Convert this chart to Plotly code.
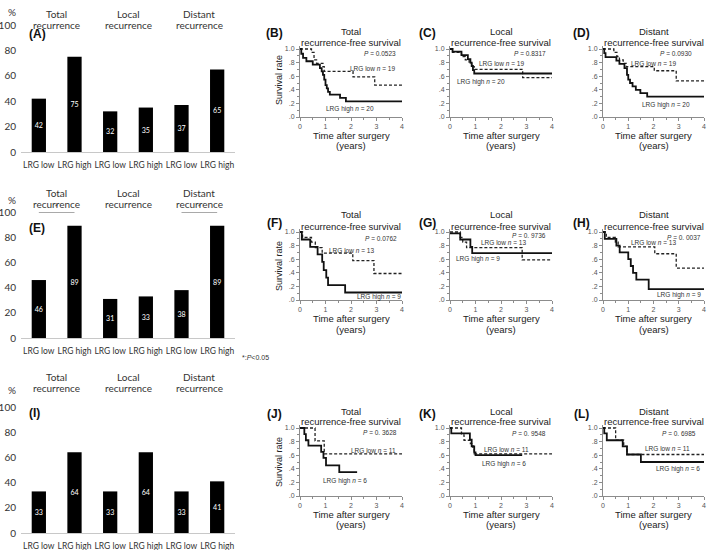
import plotly.graph_objects as go

W, H = 709, 550

# ---------------- bar chart data ----------------
bar_categories = ["LRG low", "LRG high", "LRG low", "LRG high", "LRG low", "LRG high"]
group_titles = ["Total", "Local", "Distant"]
bar_values_A = [42, 75, 32, 35, 37, 65]
bar_values_E = [46, 89, 31, 33, 38, 89]
bar_values_I = [33, 64, 33, 64, 33, 41]
bar_yticks = [0, 20, 40, 60, 80, 100]

# ---------------- Kaplan-Meier step data (time in years, survival) ----------------
B_low_t = [0, 0.45, 0.55, 0.65, 0.9, 0.95, 2.08, 2.93, 4]
B_low_s = [1, 0.95, 0.84, 0.79, 0.74, 0.67, 0.59, 0.47, 0.47]
B_high_t = [0, 0.05, 0.12, 0.25, 0.5, 0.78, 0.85, 0.9, 0.95, 1.0, 1.05, 1.1, 1.17, 1.57, 1.8, 4]
B_high_s = [1, 0.93, 0.87, 0.82, 0.77, 0.72, 0.67, 0.62, 0.55, 0.47, 0.42, 0.37, 0.33, 0.28, 0.23, 0.23]

C_low_t = [0, 0.1, 0.45, 0.6, 0.75, 0.85, 0.95, 2.85, 4]
C_low_s = [1, 0.95, 0.89, 0.84, 0.79, 0.74, 0.70, 0.58, 0.58]
C_high_t = [0, 0.1, 0.45, 0.7, 0.8, 0.85, 0.9, 0.95, 4]
C_high_s = [1, 0.96, 0.91, 0.85, 0.8, 0.75, 0.69, 0.64, 0.64]

D_low_t = [0, 0.43, 0.55, 0.65, 0.8, 0.92, 2.03, 2.9, 4]
D_low_s = [1, 0.95, 0.89, 0.84, 0.79, 0.74, 0.68, 0.53, 0.53]
D_high_t = [0, 0.05, 0.1, 0.53, 0.65, 0.85, 0.95, 1.0, 1.07, 1.17, 1.3, 1.48, 1.75, 4]
D_high_s = [1, 0.94, 0.88, 0.83, 0.78, 0.72, 0.62, 0.55, 0.5, 0.45, 0.4, 0.35, 0.3, 0.3]

F_low_t = [0, 0.1, 0.45, 0.6, 0.87, 2.07, 2.9, 4]
F_low_s = [1, 0.92, 0.85, 0.77, 0.69, 0.58, 0.39, 0.39]
F_high_t = [0, 0.07, 0.4, 0.69, 0.87, 0.93, 1.03, 1.1, 1.77, 4]
F_high_s = [1, 0.89, 0.78, 0.67, 0.56, 0.44, 0.33, 0.22, 0.11, 0.11]

G_low_t = [0, 0.4, 0.5, 0.65, 2.83, 4]
G_low_s = [1, 0.92, 0.85, 0.77, 0.59, 0.59]
G_high_t = [0, 0.4, 0.8, 0.87, 4]
G_high_s = [0.98, 0.89, 0.78, 0.69, 0.69]

H_low_t = [0, 0.13, 0.49, 0.6, 2.05, 2.9, 4]
H_low_s = [1, 0.92, 0.85, 0.78, 0.68, 0.47, 0.47]
H_high_t = [0, 0.07, 0.53, 0.66, 1.0, 1.1, 1.19, 1.32, 1.81, 4]
H_high_s = [1, 0.9, 0.8, 0.7, 0.6, 0.5, 0.4, 0.3, 0.16, 0.16]

J_low_t = [0, 0.59, 0.95, 4]
J_low_s = [1, 0.81, 0.62, 0.62]
J_high_t = [0, 0.17, 0.23, 0.33, 0.83, 0.92, 1.02, 1.54, 2.24]
J_high_s = [1, 0.91, 0.82, 0.74, 0.65, 0.56, 0.45, 0.35, 0.35]

K_low_t = [0, 0.45, 0.55, 0.8, 0.9, 0.95, 4]
K_low_s = [1, 0.9, 0.82, 0.77, 0.7, 0.62, 0.62]
K_high_t = [0, 0.05, 0.78, 0.85, 0.95, 1.0, 2.83]
K_high_s = [1, 0.92, 0.83, 0.73, 0.64, 0.6, 0.6]

L_low_t = [0, 0.5, 0.82, 0.95, 4]
L_low_s = [1, 0.82, 0.73, 0.61, 0.61]
L_high_t = [0, 0.05, 0.15, 0.78, 0.95, 1.5, 4]
L_high_s = [1, 0.92, 0.82, 0.73, 0.61, 0.5, 0.5]

km_yticks = [0, 0.2, 0.4, 0.6, 0.8, 1.0]
km_yticktext = [".0", ".2", ".4", ".6", ".8", "1.0"]
km_xticks = [0, 1, 2, 3, 4]

# ---------------- layout helpers ----------------
BAR_FONT = "Lato, Carlito, Liberation Sans, sans-serif"
KM_FONT = "Liberation Sans, Arial, sans-serif"
annotations = []
shapes = []
layout = dict(template="none", width=W, height=H, autosize=False,
              margin=dict(l=0, r=0, t=0, b=0, pad=0),
              paper_bgcolor="white", plot_bgcolor="white", showlegend=False)


def ann(xp, yp, text, size, family=KM_FONT, color="#222", xanchor="center",
        yanchor="middle", bold=False, angle=0):
    if bold:
        text = "<b>" + text + "</b>"
    annotations.append(dict(x=xp / W, y=1 - yp / H, xref="paper", yref="paper",
                            text=text, showarrow=False, xanchor=xanchor,
                            yanchor=yanchor, textangle=angle,
                            font=dict(size=size, family=family, color=color)))


fig = go.Figure()

# ---------------- bar panels ----------------
bar_panels = [
    # letter, values, py(100), py(0), py title lines, py "%", py letter
    ("(A)", bar_values_A, 25, 152, (6, 17), 12, 34),
    ("(E)", bar_values_E, 212, 338, (193, 204), 200, 228),
    ("(I)", bar_values_I, 407, 533, (385, 396), 390, 413),
]
for i, (letter, vals, ptop, pbot, tl, ppct, plet) in enumerate(bar_panels):
    n = i + 1
    xa = "x" if n == 1 else f"x{n}"
    ya = "y" if n == 1 else f"y{n}"
    layout["xaxis" if n == 1 else f"xaxis{n}"] = dict(
        domain=[21 / W, 235 / W], range=[-0.5, 5.5], anchor=ya, automargin=False,
        tickmode="array", tickvals=list(range(6)), ticktext=bar_categories,
        tickangle=0, ticklabelstandoff=5,
        showline=True, linecolor="#c8c8c8", linewidth=1, ticks="",
        showgrid=False, zeroline=False,
        tickfont=dict(family=BAR_FONT, size=8.5, color="#333"))
    layout["yaxis" if n == 1 else f"yaxis{n}"] = dict(
        domain=[1 - pbot / H, 1 - ptop / H], range=[0, 100], anchor=xa, automargin=False,
        tickmode="array", tickvals=bar_yticks, showline=False, showgrid=False,
        zeroline=False, ticks="", ticklabelstandoff=4,
        tickfont=dict(family=BAR_FONT, size=10, color="#333"))
    fig.add_trace(go.Bar(x=list(range(6)), y=vals, width=0.4,
                         marker=dict(color="black", line=dict(width=0)),
                         text=[str(v) for v in vals], textposition="inside",
                         insidetextanchor="middle", textangle=0,
                         insidetextfont=dict(color="#ffffff", size=9, family=BAR_FONT),
                         textfont=dict(color="#ffffff", size=9, family=BAR_FONT),
                         xaxis=xa, yaxis=ya, hoverinfo="skip"))
    for g, gx in zip(group_titles, [0.5, 2.5, 4.5]):
        for line_text, yp in ((g, tl[0]), ("recurrence", tl[1])):
            annotations.append(dict(x=gx, y=1 - yp / H, xref=xa, yref="paper",
                                    text=line_text, showarrow=False,
                                    font=dict(size=10, family=BAR_FONT, color="#333")))
    ann(12, ppct, "%", 10, family=BAR_FONT, color="#333")
    ann(27, plet, letter, 12, family=KM_FONT, color="#111", xanchor="left", bold=True)

# significance brackets in panel (E)
for x0, x1 in ((0, 1), (4, 5)):
    shapes.append(dict(type="line", xref="x2", yref="y2", x0=x0, x1=x1, y0=100, y1=100,
                       line=dict(color="#555", width=1)))
    annotations.append(dict(x=(x0 + x1) / 2, y=100, xref="x2", yref="y2", text="*",
                            showarrow=False, yanchor="bottom",
                            font=dict(size=7, family=KM_FONT, color="#444")))
ann(240, 357, "*:<i>P</i>&lt;0.05", 7, color="#333", xanchor="left")

# ---------------- KM panels ----------------
rows = [(117, 49, (31, 42), 33, 80, (135, 146)),
        (300, 232, (214, 226), 223, 266, (318, 329)),
        (496, 428, (411, 421), 414, 462, (514, 524))]
cols = [(300, 402, 274), (450, 552, 428), (603, 704, 581)]

km_panels = [
    ("(B)", "Total", B_low_t, B_low_s, B_high_t, B_high_s, "0.0523", 19, 20,
     (3.85, 0.93), (2.85, 0.72), (1.98, 0.12)),
    ("(C)", "Local", C_low_t, C_low_s, C_high_t, C_high_s, "0.8317", 19, 20,
     (3.84, 0.93), (2.0, 0.79), (1.2, 0.52)),
    ("(D)", "Distant", D_low_t, D_low_s, D_high_t, D_high_s, "0.0930", 19, 20,
     (3.6, 0.93), (1.98, 0.79), (2.5, 0.18)),
    ("(F)", "Total", F_low_t, F_low_s, F_high_t, F_high_s, "0.0762", 13, 9,
     (3.87, 0.91), (2.0, 0.73), (3.1, 0.05)),
    ("(G)", "Local", G_low_t, G_low_s, G_high_t, G_high_s, "0. 9736", 13, 9,
     (3.84, 0.95), (2.1, 0.85), (1.1, 0.6)),
    ("(H)", "Distant", H_low_t, H_low_s, H_high_t, H_high_s, "0. 0037", 13, 9,
     (3.96, 0.92), (2.0, 0.85), (3.0, 0.07)),
    ("(J)", "Total", J_low_t, J_low_s, J_high_t, J_high_s, "0. 3628", 11, 6,
     (3.9, 0.93), (2.9, 0.67), (1.75, 0.22)),
    ("(K)", "Local", K_low_t, K_low_s, K_high_t, K_high_s, "0. 9548", 11, 6,
     (3.84, 0.92), (2.2, 0.69), (2.1, 0.47)),
    ("(L)", "Distant", L_low_t, L_low_s, L_high_t, L_high_s, "0. 6985", 11, 6,
     (3.76, 0.92), (2.55, 0.7), (2.97, 0.4)),
]

YTOP = 1.04
for k, (letter, title, lt, ls, ht, hs, pval, nlow, nhigh, ppos, lpos, hpos) in enumerate(km_panels):
    r, c = divmod(k, 3)
    p0, p1, tl, plet, psurv, pxt = rows[r]
    cx0, cx1, pletx = cols[c]
    n = k + 4
    xa, ya = f"x{n}", f"y{n}"
    ptop = p0 - YTOP * (p0 - p1)
    layout[f"xaxis{n}"] = dict(
        domain=[cx0 / W, cx1 / W], range=[0, 4], anchor=ya, automargin=False,
        tickmode="array", tickvals=km_xticks, showline=True, linecolor="#8c8c8c",
        linewidth=1, ticks="outside", ticklen=3, tickcolor="#8c8c8c",
        minor=dict(ticks="outside", ticklen=2, tickmode="linear", tick0=0, dtick=0.5,
                   tickcolor="#8c8c8c", showgrid=False),
        showgrid=False, zeroline=False,
        tickfont=dict(family=KM_FONT, size=7, color="#555"))
    layout[f"yaxis{n}"] = dict(
        domain=[1 - p0 / H, 1 - ptop / H], range=[0, YTOP], anchor=xa, automargin=False,
        tickmode="array", tickvals=km_yticks, ticktext=km_yticktext,
        showline=True, linecolor="#8c8c8c", linewidth=1, ticks="outside",
        ticklen=3, tickcolor="#8c8c8c",
        minor=dict(ticks="outside", ticklen=2, tickmode="linear", tick0=0, dtick=0.1,
                   tickcolor="#8c8c8c", showgrid=False),
        showgrid=False, zeroline=False,
        tickfont=dict(family=KM_FONT, size=7, color="#555"))
    fig.add_trace(go.Scatter(x=lt, y=ls, mode="lines", line_shape="hv",
                             line=dict(color="#222", width=1.3, dash="3px,2px"),
                             xaxis=xa, yaxis=ya, hoverinfo="skip"))
    fig.add_trace(go.Scatter(x=ht, y=hs, mode="lines", line_shape="hv",
                             line=dict(color="#111", width=1.8),
                             xaxis=xa, yaxis=ya, hoverinfo="skip"))
    small = dict(family=KM_FONT, size=6.5, color="#333")
    annotations.append(dict(x=ppos[0], y=ppos[1], xref=xa, yref=ya,
                            text=f"<i>P</i> = {pval}", showarrow=False,
                            xanchor="right", font=small))
    annotations.append(dict(x=lpos[0], y=lpos[1], xref=xa, yref=ya,
                            text=f"LRG low <i>n</i> = {nlow}", showarrow=False,
                            font=small))
    annotations.append(dict(x=hpos[0], y=hpos[1], xref=xa, yref=ya,
                            text=f"LRG high <i>n</i> = {nhigh}", showarrow=False,
                            font=small))
    cxm = (cx0 + cx1) / 2
    ann(cxm, tl[0], title, 9.5, color="#222")
    ann(cxm, tl[1], "recurrence-free survival", 9.5, color="#222")
    ann(pletx, plet, letter, 12, color="#111", bold=True)
    ann(cxm, pxt[0], "Time after surgery", 9.5, color="#222")
    ann(cxm, pxt[1], "(years)", 9.5, color="#222")
    if c == 0:
        ann(279, psurv, "Survival rate", 9, color="#222", angle=-90)

layout["annotations"] = annotations
layout["shapes"] = shapes
fig.update_layout(**layout)
fig.write_html("out.html",
               config={"displayModeBar": False, "staticPlot": True},
               post_script="document.body.style.margin='0px';"
                           "document.body.style.overflow='hidden';")
